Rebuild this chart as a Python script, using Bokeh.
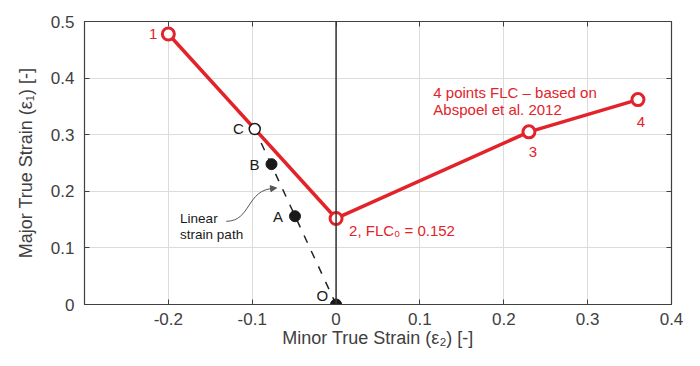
from bokeh.plotting import figure
from bokeh.models import Range1d, FixedTicker, LinearAxis, Span, Arrow, NormalHead, ColumnDataSource
from bokeh.core.properties import value
from bokeh.embed import file_html
from bokeh.resources import INLINE

# FLC points (Abspoel et al. 2012)
flc_minor = [-0.2, 0.0, 0.23, 0.36]
flc_major = [0.478, 0.152, 0.305, 0.362]
flc_labels = ["1", "2, FLC\u2080 = 0.152", "3", "4"]

# Linear strain path points
path_minor = [0.0, -0.049, -0.077, -0.097]
path_major = [0.0, 0.156, 0.248, 0.31]
path_labels = ["O", "A", "B", "C"]

x_ticks = [-0.2, -0.1, 0.0, 0.1, 0.2, 0.3, 0.4]
x_tick_labels = ["-0.2", "-0.1", "0", "0.1", "0.2", "0.3", "0.4"]
y_ticks = [0.0, 0.1, 0.2, 0.3, 0.4, 0.5]
y_tick_labels = ["0", "0.1", "0.2", "0.3", "0.4", "0.5"]

RED = "#e3232a"
GRAY = "#404040"
FONT = "Liberation Sans"

p = figure(width=684, height=350, output_backend="svg", toolbar_location=None,
           x_range=Range1d(-0.3, 0.4), y_range=Range1d(0, 0.5),
           min_border_left=84, min_border_top=21, min_border_right=13, min_border_bottom=40)
p.outline_line_color = GRAY
p.outline_line_width = 1.2

for ax in (p.xaxis[0], p.yaxis[0]):
    ax.major_tick_in = 5
    ax.major_tick_out = 0
    ax.minor_tick_line_color = None
    ax.axis_line_color = GRAY
    ax.major_tick_line_color = GRAY
    ax.major_label_text_font = FONT
    ax.major_label_text_font_size = "17px"
    ax.major_label_text_color = GRAY
    ax.axis_label_text_font = FONT
    ax.axis_label_text_font_size = "18px"
    ax.axis_label_text_font_style = "normal"
    ax.axis_label_text_color = GRAY

p.xaxis.ticker = FixedTicker(ticks=x_ticks)
p.yaxis.ticker = FixedTicker(ticks=y_ticks)
p.xaxis.major_label_overrides = dict(zip(x_ticks, x_tick_labels))
p.yaxis.major_label_overrides = dict(zip(y_ticks, y_tick_labels))
p.xaxis.axis_label = "Minor True Strain (\u03b5\u2082) [-]"
p.yaxis.axis_label = "Major True Strain (\u03b5\u2081) [-]"
p.xaxis.major_label_standoff = 8
p.yaxis.major_label_standoff = 10
p.xaxis.axis_label_standoff = 0
p.yaxis.axis_label_standoff = 12

top = LinearAxis(ticker=FixedTicker(ticks=x_ticks), major_tick_in=5, major_tick_out=0,
                 minor_tick_line_color=None, major_label_overrides={t: "" for t in x_ticks},
                 axis_line_color=GRAY, major_tick_line_color=GRAY, major_label_standoff=0)
right = LinearAxis(ticker=FixedTicker(ticks=y_ticks), major_tick_in=5, major_tick_out=0,
                   minor_tick_line_color=None, major_label_overrides={t: "" for t in y_ticks},
                   axis_line_color=GRAY, major_tick_line_color=GRAY, major_label_standoff=0)
p.add_layout(top, "above")
p.add_layout(right, "right")

p.xgrid.grid_line_color = "#dcdcdc"
p.ygrid.grid_line_color = "#dcdcdc"
p.xgrid.ticker = FixedTicker(ticks=x_ticks)
p.ygrid.ticker = FixedTicker(ticks=y_ticks)

p.add_layout(Span(location=0, dimension="height", line_color="#333333", line_width=1.5))

# dashed linear strain path
p.line([path_minor[0], path_minor[-1]], [path_major[0], path_major[-1]],
       line_color="#222222", line_width=1.5, line_dash="8 9")

# FLC
p.line(flc_minor, flc_major, line_color=RED, line_width=3.5)
p.scatter(flc_minor, flc_major, size=12, line_color=RED, line_width=3, fill_color="white")

# strain path points
p.scatter(path_minor[:3], path_major[:3], size=11, fill_color="#1a1a1a", line_color="#1a1a1a")
p.scatter(path_minor[3:], path_major[3:], size=11, fill_color="white", line_color="#1a1a1a", line_width=1.5)

# labels for FLC points
src_flc = ColumnDataSource(dict(x=flc_minor, y=flc_major, t=flc_labels,
                                dx=[-11, 13, 4, 3], dy=[0, 12, 20, 22],
                                align=["right", "left", "center", "center"]))
p.text(x="x", y="y", text="t", x_offset="dx", y_offset="dy", text_align="align",
       text_baseline="middle", text_color=RED, text_font=value(FONT), text_font_size="15px",
       source=src_flc)

src_path = ColumnDataSource(dict(x=path_minor, y=path_major, t=path_labels,
                                 dx=[-8, -12, -12, -11], dy=[-9, 0, 0, -1]))
p.text(x="x", y="y", text="t", x_offset="dx", y_offset="dy", text_align="right",
       text_baseline="middle", text_color="#1a1a1a", text_font=value(FONT), text_font_size="15px",
       source=src_path)

p.text(x=[0.116, 0.116], y=[0.374, 0.344], text=["4 points FLC \u2013 based on", "Abspoel et al. 2012"],
       text_align="left", text_baseline="middle", text_color=RED, text_font=value(FONT),
       text_font_size="15px")

p.text(x=[-0.186, -0.186], y=[0.152, 0.123], text=["Linear", "strain path"],
       text_align="left", text_baseline="middle", text_color="#1a1a1a", text_font=value(FONT),
       text_font_size="13.5px")

# curved arrow
p.bezier(x0=[-0.131], y0=[0.147], x1=[-0.074], y1=[0.205], cx0=[-0.101], cy0=[0.147],
         cx1=[-0.107], cy1=[0.204], line_color="#555555", line_width=1)
p.add_layout(Arrow(end=NormalHead(size=6, fill_color="#555555", line_color="#555555"),
                   x_start=-0.079, y_start=0.2045, x_end=-0.071, y_end=0.206,
                   line_color="#555555", line_width=1))

open("out.html", "w").write(file_html(p, INLINE))
